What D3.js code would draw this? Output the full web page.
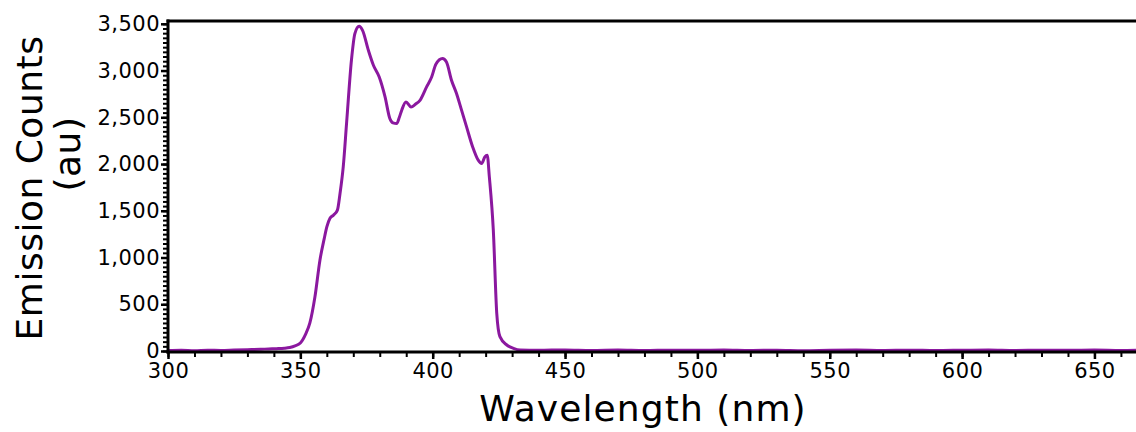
<!DOCTYPE html>
<html>
<head>
<meta charset="utf-8">
<script src="https://cdn.jsdelivr.net/npm/d3@7"></script>
<style>
  html, body { margin: 0; padding: 0; background: #fff; }
  svg { display: block; }
</style>
</head>
<body>
<svg id="chart" width="1136" height="432"></svg>
<script>
// ---- data ----
const wavelengths = [300, 305, 310, 315, 320, 325, 330, 335, 338, 341, 344, 346, 348, 350, 352, 353.6, 355.5, 357.4, 359, 360, 361.2, 362.5, 364, 365, 366.2, 367.5, 369.3, 370.6, 372.2, 373.5, 375.7, 377.6, 379.8, 382, 383.8, 385, 386.4, 387.4, 388.3, 389.9, 391.8, 393.5, 395.2, 397.7, 399.6, 401.2, 403.7, 405.2, 407.1, 409, 410.9, 412.8, 415.1, 417.2, 418.5, 419.7, 420.6, 421.4, 422.9, 424.2, 425.4, 428, 430.5, 433, 440, 450, 460, 470, 480, 490, 500, 510, 520, 530, 540, 550, 560, 570, 580, 590, 600, 610, 620, 630, 640, 650, 660, 665.7];
const counts = [5, 8, 4, 9, 6, 10, 14, 18, 22, 25, 30, 38, 55, 85, 180, 300, 577, 972, 1200, 1328, 1420, 1453, 1507, 1688, 1970, 2450, 3110, 3395, 3473, 3430, 3217, 3057, 2931, 2718, 2487, 2440, 2433, 2500, 2576, 2664, 2611, 2640, 2682, 2825, 2931, 3067, 3128, 3092, 2896, 2754, 2576, 2397, 2183, 2041, 2006, 2077, 2095, 1863, 1293, 403, 153, 64, 29, 11, 8, 12, 6, 10, 5, 9, 7, 11, 6, 9, 4, 8, 10, 6, 9, 5, 8, 11, 6, 9, 7, 10, 6, 8];
const xTicks = [300, 350, 400, 450, 500, 550, 600, 650];
const yTicks = [0, 500, 1000, 1500, 2000, 2500, 3000, 3500];
const xLabel = "Wavelength (nm)";
const yLabel1 = "Emission Counts";
const yLabel2 = "(au)";

// ---- drawing ----
const svg = d3.select("#chart");
const mLeft = 168, mRight = 1136, mTop = 21, mBottom = 351;
const x = d3.scaleLinear().domain([300, 665.7]).range([mLeft, mRight]);
const y = d3.scaleLinear().domain([0, 3530]).range([mBottom, mTop]);
const lineColor = "#8b189f";
const font = "'DejaVu Sans', Verdana, sans-serif";

const data = wavelengths.map((w, i) => ({ w, c: counts[i] }));

// line
const line = d3.line().x(d => x(d.w)).y(d => y(d.c)).curve(d3.curveMonotoneX);
svg.append("path")
  .datum(data)
  .attr("fill", "none")
  .attr("stroke", lineColor)
  .attr("stroke-width", 3)
  .attr("stroke-linejoin", "round")
  .attr("d", line);

// minor ticks x
const xMinor = d3.range(300, 666, 10);
svg.append("g")
  .attr("transform", `translate(0,${mBottom + 1})`)
  .call(d3.axisBottom(x).tickValues(xMinor).tickSize(5).tickFormat(""))
  .call(g => g.select(".domain").remove())
  .call(g => g.selectAll("line").attr("stroke", "#000").attr("stroke-width", 2));

// major x axis
svg.append("g")
  .attr("transform", `translate(0,${mBottom + 1})`)
  .call(d3.axisBottom(x).tickValues(xTicks).tickSize(7).tickPadding(4).tickFormat(d3.format("d")))
  .call(g => g.select(".domain").remove())
  .call(g => g.selectAll("line").attr("stroke", "#000").attr("stroke-width", 2.5))
  .call(g => g.selectAll("text").attr("font-family", font).attr("font-size", 21)
    .attr("letter-spacing", 0.5).attr("fill", "#000"));

// minor ticks y
const yMinor = d3.range(0, 3501, 50);
svg.append("g")
  .attr("transform", `translate(${mLeft - 1},0)`)
  .call(d3.axisLeft(y).tickValues(yMinor).tickSize(4).tickFormat(""))
  .call(g => g.select(".domain").remove())
  .call(g => g.selectAll("line").attr("stroke", "#000").attr("stroke-width", 2));

// major y axis
svg.append("g")
  .attr("transform", `translate(${mLeft - 1},0)`)
  .call(d3.axisLeft(y).tickValues(yTicks).tickSize(6).tickPadding(1).tickFormat(d3.format(",")))
  .call(g => g.select(".domain").remove())
  .call(g => g.selectAll("line").attr("stroke", "#000").attr("stroke-width", 2.5))
  .call(g => g.selectAll("text").attr("font-family", font).attr("font-size", 21)
    .attr("letter-spacing", 0.5).attr("fill", "#000"));

// axis lines (frame: left, bottom, top)
svg.append("line").attr("x1", mLeft).attr("x2", mLeft).attr("y1", mTop - 1.5).attr("y2", mBottom + 2.5)
  .attr("stroke", "#000").attr("stroke-width", 3);
svg.append("line").attr("x1", mLeft - 1.5).attr("x2", mRight).attr("y1", mBottom + 1).attr("y2", mBottom + 1)
  .attr("stroke", "#000").attr("stroke-width", 3);
svg.append("line").attr("x1", mLeft - 1.5).attr("x2", mRight).attr("y1", mTop).attr("y2", mTop)
  .attr("stroke", "#000").attr("stroke-width", 3);

// axis titles
svg.append("text")
  .attr("x", 643).attr("y", 421)
  .attr("text-anchor", "middle")
  .attr("font-family", font).attr("font-size", 36)
  .attr("letter-spacing", 1.1)
  .attr("fill", "#000")
  .text(xLabel);

svg.append("text")
  .attr("transform", "translate(42,188) rotate(-90)")
  .attr("text-anchor", "middle")
  .attr("font-family", font).attr("font-size", 36)
  .attr("letter-spacing", 0.5)
  .attr("fill", "#000")
  .text(yLabel1);

svg.append("text")
  .attr("transform", "translate(80,154) rotate(-90)")
  .attr("text-anchor", "middle")
  .attr("font-family", font).attr("font-size", 36)
  .attr("letter-spacing", 0.5)
  .attr("fill", "#000")
  .text(yLabel2);
</script>
</body>
</html>
